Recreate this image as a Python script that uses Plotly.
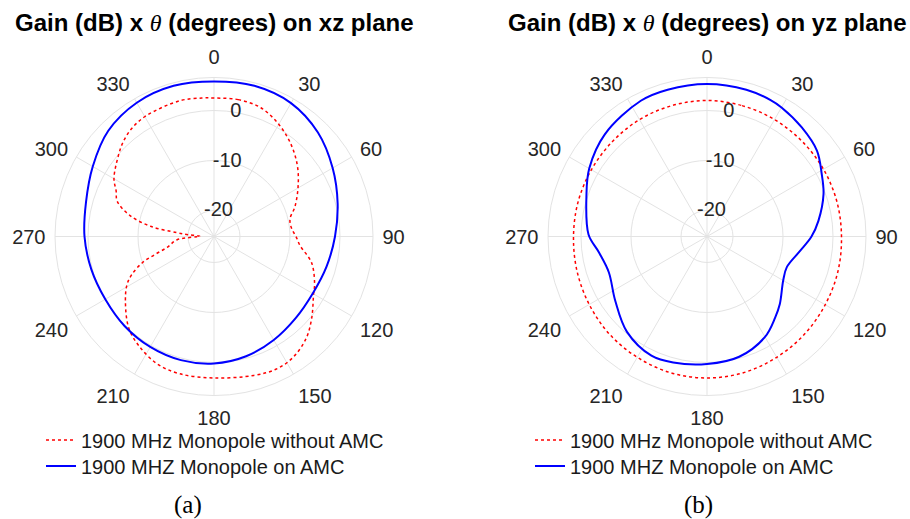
import plotly.graph_objects as go

# ---- data ----
tick_angles = [0, 30, 60, 90, 120, 150, 180, 210, 240, 270, 300, 330]
tick_labels = [str(a) for a in tick_angles]
r_ticks = [-20, -10, 0]
r_tick_labels = ["-20", "-10", "0"]
r_label_angle = 10  # radial tick labels sit along this direction

# xz plane, monopole without AMC (red dotted)
xz_red_theta = [0, 10, 20, 30, 40, 50, 60, 70, 77, 84, 90, 96, 105, 115, 120, 130, 138, 147, 155, 164,
                180, 194, 204, 214, 223, 234, 241, 245, 250, 253, 257, 265, 271, 274, 276, 279, 284,
                290, 295, 300, 310, 316, 323, 331, 346, 355, 360]
xz_red_gain = [2.5, 2.6, 2.2, 0.7, -1.2, -3.4, -5.8, -8.0, -9.6, -9.6, -8.8, -7.9, -5.0, -3.0, -2.2, 0.3, 2.3, 3.7, 4.1, 3.7,
               3.1, 3.1, 2.7, 1.4, -0.2, -3.3, -5.3, -7.0, -10.0, -12.8, -15.6, -17.8, -22.4, -20.0, -17.7, -12.5, -7.9,
               -4.6, -3.6, -2.1, -0.2, 1.0, 2.0, 2.5, 2.8, 2.6, 2.5]

# xz plane, monopole on AMC (blue solid)
xz_blue_theta = [0, 15, 30, 45, 60, 75, 90, 105, 120, 135, 150, 165, 180, 195, 210, 225, 240, 255,
                 270, 285, 300, 315, 330, 345, 360]
xz_blue_gain = [5.8, 6.0, 5.6, 4.2, 2.2, 0.4, -1.0, -1.9, -2.4, -2.1, -1.3, -0.4, 0.2, 0.4, 0.3, 0.1, -0.1, 0.2,
                0.7, 1.3, 2.8, 4.7, 5.7, 6.0, 5.8]

# yz plane, monopole without AMC (red dotted)
yz_red_theta = [0, 15, 30, 45, 60, 75, 90, 105, 120, 135, 150, 165, 180, 195, 210, 225, 240, 255,
                270, 285, 300, 315, 330, 345, 360]
yz_red_gain = [2.0, 1.9, 1.8, 1.7, 1.7, 1.7, 1.7, 1.9, 2.1, 2.4, 2.7, 3.0, 3.1, 3.0, 2.7, 2.4, 2.0, 1.7,
               1.5, 1.5, 1.5, 1.6, 1.8, 1.9, 2.0]

# yz plane, monopole on AMC (blue solid)
yz_blue_theta = [0, 15, 25, 30, 41, 52, 61, 70, 82, 90, 99, 111, 120, 133, 140, 150, 165, 180, 195, 205,
                 220, 235, 250, 262, 271, 289, 300, 315, 334, 345, 360]
yz_blue_gain = [5.3, 5.2, 4.9, 4.6, 3.7, 2.7, 1.0, -0.4, -2.7, -4.3, -6.4, -8.1, -7.6, -5.3, -4.0, -2.0, -0.3, 0.3, 0.9, 1.1,
                -0.3, -2.8, -4.3, -3.3, -1.5, 0.3, 2.0, 3.7, 5.0, 5.2, 5.3]

name_red = "1900 MHz Monopole without AMC"
name_blue = "1900 MHZ Monopole on AMC"

W, H = 910, 519
RED = "#ff0000"
BLUE = "#0000ff"
GRID = "#e3e3e3"
TXT = "#262626"
FONT = "Liberation Sans, Arial, sans-serif"
SERIF = "Liberation Serif, Times New Roman, serif"

fig = go.Figure()

for sub, leg_red, leg_blue, th_r, g_r, th_b, g_b in [
    ("polar", "legend", "legend2", xz_red_theta, xz_red_gain, xz_blue_theta, xz_blue_gain),
    ("polar2", "legend3", "legend4", yz_red_theta, yz_red_gain, yz_blue_theta, yz_blue_gain),
]:
    fig.add_trace(go.Scatterpolar(theta=th_r, r=g_r, mode="lines", name=name_red, showlegend=True,
                                  line=dict(color=RED, width=1.5, dash="dot", shape="spline"),
                                  subplot=sub, legend=leg_red, hoverinfo="skip"))
    fig.add_trace(go.Scatterpolar(theta=th_b, r=g_b, mode="lines", name=name_blue, showlegend=True,
                                  line=dict(color=BLUE, width=2, shape="spline"),
                                  subplot=sub, legend=leg_blue, hoverinfo="skip"))
    # radial tick labels, centred on the label direction
    fig.add_trace(go.Scatterpolar(theta=[r_label_angle] * len(r_ticks), r=r_ticks, mode="text",
                                  text=r_tick_labels, textposition="middle center",
                                  textfont=dict(size=20, color=TXT, family=FONT),
                                  showlegend=False, subplot=sub, hoverinfo="skip", cliponaxis=False))


def polar_layout(x0, x1, y0, y1):
    return dict(
        domain=dict(x=[x0 / W, x1 / W], y=[1 - y1 / H, 1 - y0 / H]),
        bgcolor="white",
        angularaxis=dict(rotation=90, direction="clockwise", tickmode="array",
                         tickvals=tick_angles, ticktext=tick_labels, ticks="outside",
                         ticklen=5, tickcolor="rgba(0,0,0,0)",
                         showline=True, linecolor=GRID, linewidth=1, gridcolor=GRID,
                         tickfont=dict(size=20, color=TXT, family=FONT)),
        radialaxis=dict(range=[-25.2, 6.6], tickmode="array", tickvals=r_ticks,
                        showticklabels=False, ticks="", showline=False, gridcolor=GRID),
    )


def legend_at(x_px, y_px):
    return dict(x=x_px / W, y=1 - y_px / H, xanchor="left", yanchor="middle",
                bgcolor="rgba(0,0,0,0)", font=dict(size=20, color="#1a1a1a", family=FONT),
                itemwidth=30, tracegroupgap=0, visible=True)


cy = 236.5
R = 159
title_tpl = ("<b>Gain (dB) x </b><span style='font-family:Liberation Serif;font-style:italic'>θ</span>"
             "<b> (degrees) on {} plane</b>")
fig.update_layout(
    width=W, height=H,
    margin=dict(l=0, r=0, t=0, b=0),
    paper_bgcolor="white",
    showlegend=True,
    font=dict(family=FONT, color=TXT),
    polar=polar_layout(214 - R, 214 + R, cy - R, cy + R),
    polar2=polar_layout(707 - R, 707 + R, cy - R, cy + R),
    legend=legend_at(41, 440),
    legend2=legend_at(41, 466),
    legend3=legend_at(530, 440),
    legend4=legend_at(530, 466),
    annotations=[
        dict(text=title_tpl.format("xz"), x=214 / W, y=1 - 23 / H,
             xref="paper", yref="paper", showarrow=False, xanchor="center", yanchor="middle",
             font=dict(size=24, color="black", family=FONT)),
        dict(text=title_tpl.format("yz"), x=707 / W, y=1 - 23 / H,
             xref="paper", yref="paper", showarrow=False, xanchor="center", yanchor="middle",
             font=dict(size=24, color="black", family=FONT)),
        dict(text="(a)", x=188 / W, y=1 - 505 / H, xref="paper", yref="paper", showarrow=False,
             xanchor="center", yanchor="middle", font=dict(size=25, color="black", family=SERIF)),
        dict(text="(b)", x=698 / W, y=1 - 505 / H, xref="paper", yref="paper", showarrow=False,
             xanchor="center", yanchor="middle", font=dict(size=25, color="black", family=SERIF)),
    ],
)

fig.write_html("out.html", config={"displayModeBar": False},
               post_script="document.body.style.margin='0';document.body.style.overflow='hidden';")
